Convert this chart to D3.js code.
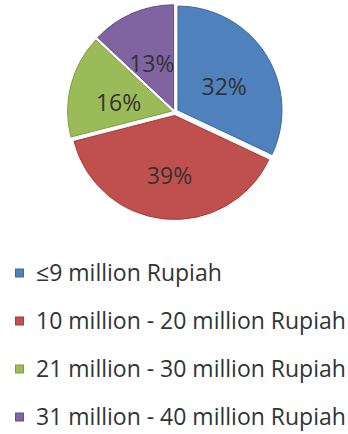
<!DOCTYPE html>
<html lang="en">
<head>
	<meta charset="UTF-8">
	<title>Income pie</title>
	<script src="https://d3js.org/d3.v7.min.js"></script>
	<style>
		body { margin: 0; background: #fff; }
		text { font-family: "Open Sans", sans-serif; fill: #333; }
	</style>
</head>
<body>
	<div id="main"></div>
</body>
<script>
	// chart data
	var categories = ["\u22649 million Rupiah", "10 million - 20 million Rupiah", "21 million - 30 million Rupiah", "31 million - 40 million Rupiah"];
	var shares = [32, 39, 16, 13];
	var colors = ["#4f81bd", "#c0504d", "#9bbb59", "#8064a2"];
	var strokes = ["#3a6aa3", "#a23d3a", "#7f9c45", "#664f86"];

	function drawPie(target){
		var width = 348, height = 434;
		var cx = 175, cy = 112, radius = 104;

		var svg = d3.select(target)
			.append("svg")
			.attr("width", width)
			.attr("height", height);

		var pie = d3.pie().sort(null).value(function(d){ return d; });
		var arcs = pie(shares);

		var arc = d3.arc().innerRadius(0).outerRadius(radius);
		var labelArc = d3.arc().innerRadius(radius * 0.56).outerRadius(radius * 0.56);

		var g = svg.append("g").attr("transform", "translate(" + cx + "," + cy + ")");

		// slightly exploded slices
		g.selectAll("path")
			.data(arcs)
			.enter()
			.append("path")
			.attr("d", arc)
			.attr("transform", function(d){
				var a = (d.startAngle + d.endAngle) / 2;
				return "translate(" + (Math.sin(a) * 3.5) + "," + (-Math.cos(a) * 3.5) + ")";
			})
			.attr("fill", function(d, i){ return colors[i]; })
			.attr("stroke", function(d, i){ return strokes[i]; })
			.attr("stroke-width", 1);

		// labels sit a little low, like the original
		g.selectAll("text.lbl")
			.data(arcs)
			.enter()
			.append("text")
			.attr("class", "lbl")
			.attr("x", function(d){ return labelArc.centroid(d)[0]; })
			.attr("y", function(d){ return labelArc.centroid(d)[1]; })
			.attr("text-anchor", "middle")
			.attr("dy", "0.6em")
			.style("font-size", "23px")
			.text(function(d){ return d.data + "%"; });

		// legend
		var legend = svg.selectAll("g.leg")
			.data(categories)
			.enter()
			.append("g")
			.attr("class", "leg")
			.attr("transform", function(d, i){ return "translate(15," + (273 + i * 48) + ")"; });

		legend.append("rect")
			.attr("x", 0.5)
			.attr("y", -4)
			.attr("width", 8)
			.attr("height", 8)
			.attr("fill", function(d, i){ return colors[i]; })
			.attr("stroke", function(d, i){ return strokes[i]; });

		legend.append("text")
			.attr("x", 21)
			.attr("dy", "0.33em")
			.style("font-size", "23px")
			.text(function(d){ return d; });
	}

	drawPie("#main");
</script>
</html>
